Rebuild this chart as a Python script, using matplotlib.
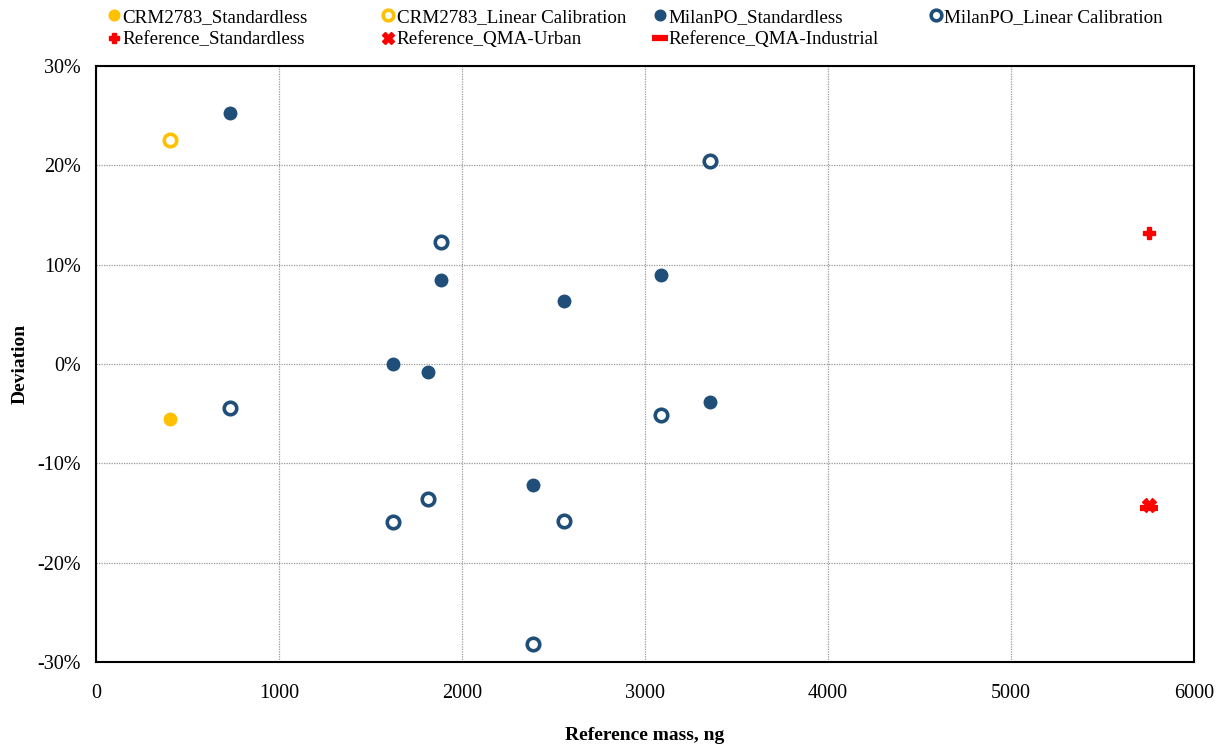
import matplotlib
matplotlib.use("Agg")
import matplotlib.pyplot as plt
from matplotlib.ticker import FuncFormatter

plt.rcParams['font.family'] = ['Liberation Serif', 'DejaVu Serif']

# Deviation of measured vs. reference mass
crm_mass = [404]
crm_standardless = [-0.055]
crm_linear = [0.226]

milan_mass = [732, 1623, 1814, 1885, 2388, 2557, 3087, 3355]
milan_standardless = [0.253, 0.000, -0.008, 0.085, -0.122, 0.063, 0.090, -0.038]
milan_linear = [-0.044, -0.159, -0.136, 0.123, -0.282, -0.158, -0.051, 0.204]

ref_mass = [5754]
ref_standardless = [0.132]
ref_qma_urban = [-0.142]
ref_qma_industrial = [-0.145]

yellow = '#FFC000'
blue = '#1F4E79'
red = '#FF0000'

fig = plt.figure(figsize=(12.25, 7.5), dpi=100)
ax = fig.add_axes([0.0784, 0.1173, 0.8963, 0.7947])

ms = 9
h1, = ax.plot(crm_mass, crm_standardless, 'o', color=yellow, ms=ms, mec=yellow,
              label='CRM2783_Standardless')
h2, = ax.plot(crm_mass, crm_linear, 'o', mfc='white', mec=yellow, mew=2.6, ms=ms,
              label='CRM2783_Linear Calibration')
h3, = ax.plot(milan_mass, milan_standardless, 'o', color=blue, mec=blue, ms=ms,
              label='MilanPO_Standardless')
h4, = ax.plot(milan_mass, milan_linear, 'o', mfc='white', mec=blue, mew=2.6, ms=ms,
              label='MilanPO_Linear Calibration')
h5, = ax.plot(ref_mass, ref_standardless, 'P', color=red, ms=8, mec=red,
              label='Reference_Standardless')
h6, = ax.plot(ref_mass, ref_qma_urban, 'X', color=red, ms=10, mec=red,
              label='Reference_QMA-Urban')
h7, = ax.plot(ref_mass, ref_qma_industrial, '_', color=red, ms=13, mew=4.5,
              label='Reference_QMA-Industrial')

ax.set_xlim(0, 6000)
ax.set_ylim(-0.30, 0.30)
ax.set_xticks(range(0, 6001, 1000))
ax.set_yticks([-0.3, -0.2, -0.1, 0.0, 0.1, 0.2, 0.3])
ax.yaxis.set_major_formatter(FuncFormatter(lambda v, p: f"{v*100:.0f}%"))
ax.tick_params(length=0, labelsize=14.5)
ax.tick_params(axis='y', pad=11)
ax.tick_params(axis='x', pad=16)
ax.grid(True, linestyle=(0, (1, 1)), color='#999999', linewidth=0.9)
for s in ax.spines.values():
    s.set_linewidth(1.5)
    s.set_color('black')

ax.set_ylabel('Deviation', fontsize=14, fontweight='bold')
ax.yaxis.set_label_coords(-0.069, 0.5)
ax.set_xlabel('Reference mass, ng', fontsize=14, fontweight='bold')
ax.xaxis.set_label_coords(0.5, -0.1225)
ax.xaxis.label.set_va('center')
ax.yaxis.label.set_va('center')

# Legend laid out in four evenly spaced columns
columns = [[h1, h5], [h2, h6], [h3, h7], [h4]]
col_x = [0.082, 0.306, 0.528, 0.753]
for hs, x in zip(columns, col_x):
    fig.legend(handles=hs, loc='upper left', bbox_to_anchor=(x, 0.999),
               frameon=False, fontsize=13.7, handlelength=0.6, handletextpad=0.15,
               labelspacing=0.28, borderaxespad=0, markerscale=0.85)

fig.savefig('out.png', dpi=100)
